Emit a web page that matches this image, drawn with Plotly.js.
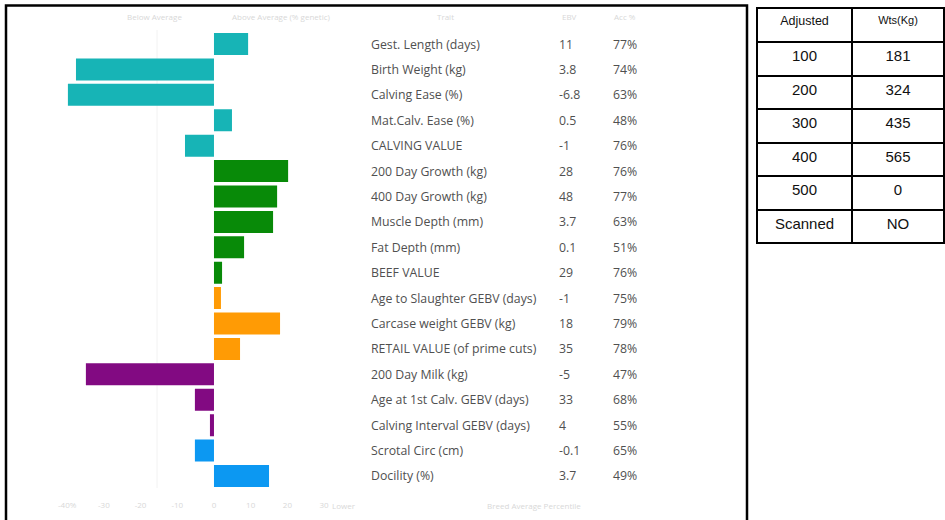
<!DOCTYPE html>
<html>
<head>
<meta charset="utf-8">
<script src="https://cdn.plot.ly/plotly-3.0.1.min.js"></script>
<style>
  html, body { margin: 0; padding: 0; background: #ffffff; }
  #chart { width: 945px; height: 520px; }
</style>
</head>
<body>
<div id="chart"></div>
<script>
// ---- Data ----
const traits = [
  'Gest. Length (days)', 'Birth Weight (kg)', 'Calving Ease (%)', 'Mat.Calv. Ease (%)',
  'CALVING VALUE', '200 Day Growth (kg)', '400 Day Growth (kg)', 'Muscle Depth (mm)',
  'Fat Depth (mm)', 'BEEF VALUE', 'Age to Slaughter GEBV (days)', 'Carcase weight GEBV (kg)',
  'RETAIL VALUE (of prime cuts)', '200 Day Milk (kg)', 'Age at 1st Calv. GEBV (days)',
  'Calving Interval GEBV (days)', 'Scrotal Circ (cm)', 'Docility (%)'
];
const barValues = [9.3, -37.6, -39.8, 4.9, -7.9, 20.2, 17.2, 16.1, 8.2, 2.2, 1.9, 18.0, 7.1, -34.9, -5.2, -1.1, -5.2, 15.0];
const ebvValues = ['11', '3.8', '-6.8', '0.5', '-1', '28', '48', '3.7', '0.1', '29', '-1', '18', '35', '-5', '33', '4', '-0.1', '3.7'];
const accValues = ['77%', '74%', '63%', '48%', '76%', '76%', '77%', '63%', '51%', '76%', '75%', '79%', '78%', '47%', '68%', '55%', '65%', '49%'];
const traitGroups = ['calving', 'calving', 'calving', 'calving', 'calving',
  'growth', 'growth', 'growth', 'growth', 'growth',
  'carcase', 'carcase', 'carcase',
  'maternal', 'maternal', 'maternal',
  'other', 'other'];
const axisTicks = [-40, -30, -20, -10, 0, 10, 20, 30];
const axisTickText = ['-40%', '-30', '-20', '-10', '0', '10', '20', '30'];
const headerLabels = ['Below Average', 'Above Average (% genetic)', 'Trait', 'EBV', 'Acc %'];

const tableAdjusted = ['100', '200', '300', '400', '500', 'Scanned'];
const tableWeights = ['181', '324', '435', '565', '0', 'NO'];
const tableHeader = ['Adjusted', 'Wts(Kg)'];

// ---- Styles ----
const groupColors = {
  calving: '#17b4b6',
  growth: '#088a08',
  carcase: '#ff9b05',
  maternal: '#820a82',
  other: '#0c98f2'
};
const W = 945, H = 520;
const px = v => v / W;
const py = v => (H - v) / H;
const textFont = { family: 'Open Sans, sans-serif', size: 12.3, color: '#505050' };
const faintFont = { family: 'Open Sans, sans-serif', size: 8, color: '#d8d8d8' };

const barTrace = {
  type: 'bar',
  orientation: 'h',
  y: traits,
  x: barValues,
  marker: { color: traitGroups.map(g => groupColors[g]), line: { width: 0 } },
  hoverinfo: 'y+x',
  showlegend: false
};

const tableTrace = {
  type: 'table',
  domain: { x: [px(757), px(944)], y: [py(246), py(8)] },
  columnwidth: [95, 92],
  header: {
    values: tableHeader,
    height: 34,
    align: 'center',
    line: { color: '#000', width: 2 },
    fill: { color: '#fff' },
    font: { family: 'Liberation Sans, Arial, sans-serif', size: [12.5, 11], color: '#111' }
  },
  cells: {
    values: [tableAdjusted, tableWeights],
    height: 33.5,
    align: 'center',
    line: { color: '#000', width: 2 },
    fill: { color: '#fff' },
    font: { family: 'Liberation Sans, Arial, sans-serif', size: 15, color: '#111' }
  }
};

const annotations = [];
traits.forEach((t, i) => {
  annotations.push({ xref: 'paper', yref: 'y', x: px(369), y: t, text: t, showarrow: false,
    xanchor: 'left', yanchor: 'middle', font: textFont });
  annotations.push({ xref: 'paper', yref: 'y', x: px(557), y: t, text: ebvValues[i], showarrow: false,
    xanchor: 'left', yanchor: 'middle', font: textFont });
  annotations.push({ xref: 'paper', yref: 'y', x: px(611), y: t, text: accValues[i], showarrow: false,
    xanchor: 'left', yanchor: 'middle', font: textFont });
});
const headerX = [125, 230, 435, 560, 612];
headerLabels.forEach((h, i) => {
  annotations.push({ xref: 'paper', yref: 'paper', x: px(headerX[i]), y: py(16), text: h, showarrow: false,
    xanchor: 'left', yanchor: 'middle', font: faintFont });
});
annotations.push({ xref: 'paper', yref: 'paper', x: px(330), y: py(505), text: 'Lower', showarrow: false,
  xanchor: 'left', yanchor: 'middle', font: faintFont });
annotations.push({ xref: 'paper', yref: 'paper', x: px(485), y: py(505), text: 'Breed Average Percentile', showarrow: false,
  xanchor: 'left', yanchor: 'middle', font: faintFont });

const layout = {
  width: W, height: H,
  margin: { l: 0, r: 0, t: 0, b: 0 },
  paper_bgcolor: '#fff', plot_bgcolor: '#fff',
  bargap: 0.134,
  xaxis: {
    domain: [px(58), px(358)],
    range: [-42.5, 39.24],
    showgrid: false, zeroline: false, showline: false,
    tickvals: axisTicks, ticktext: axisTickText,
    ticks: '', ticklabelstandoff: 10,
    tickfont: faintFont,
    fixedrange: true
  },
  yaxis: {
    domain: [py(488.7), py(31.3)],
    type: 'category',
    categoryorder: 'array', categoryarray: traits,
    autorange: 'reversed',
    showticklabels: false, showgrid: false, zeroline: false, showline: false, ticks: '',
    fixedrange: true
  },
  shapes: [
    { type: 'rect', xref: 'paper', yref: 'paper', x0: px(6), x1: px(747), y0: py(530), y1: py(5.5),
      line: { color: '#000', width: 2.5 }, fillcolor: 'rgba(0,0,0,0)' },
    { type: 'line', layer: 'below', xref: 'paper', yref: 'paper', x0: px(157), x1: px(157), y0: py(488), y1: py(30),
      line: { color: '#f2f2f2', width: 1 } }
  ],
  annotations: annotations,
  showlegend: false
};

Plotly.newPlot('chart', [barTrace, tableTrace], layout, { displayModeBar: false, staticPlot: true });
</script>
</body>
</html>
